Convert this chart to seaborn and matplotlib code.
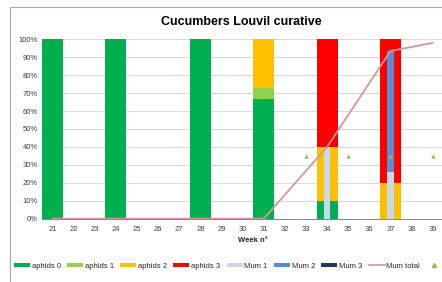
import numpy as np
import pandas as pd
import matplotlib
matplotlib.use("Agg")
import matplotlib.pyplot as plt
from matplotlib.patches import Rectangle, Patch
from matplotlib.lines import Line2D
import seaborn as sns

weeks = list(range(21, 40))
week_labels = [str(w) for w in weeks]

aphids0 = [100, 0, 0, 100, 0, 0, 0, 100, 0, 0, 67, 0, 0, 10, 0, 0, 0, 0, 0]
aphids1 = [0, 0, 0, 0, 0, 0, 0, 0, 0, 0, 6, 0, 0, 0, 0, 0, 0, 0, 0]
aphids2 = [0, 0, 0, 0, 0, 0, 0, 0, 0, 0, 27, 0, 0, 30, 0, 0, 20, 0, 0]
aphids3 = [0, 0, 0, 0, 0, 0, 0, 0, 0, 0, 0, 0, 0, 60, 0, 0, 80, 0, 0]
mum1 = [0, 0, 0, 0, 0, 0, 0, 0, 0, 0, 0, 0, 0, 40, 0, 0, 26, 0, 0]
mum2 = [0, 0, 0, 0, 0, 0, 0, 0, 0, 0, 0, 0, 0, 0, 0, 0, 67.5, 0, 0]
mum3 = [0, 0, 0, 0, 0, 0, 0, 0, 0, 0, 0, 0, 0, 0, 0, 0, 0, 0, 0]
mum_total = [0, 0, 0, 0, 0, 0, 0, 0, 0, 0, 0, np.nan, np.nan, 40, np.nan, np.nan, 93.5, np.nan, 98]
marker_weeks = [33, 35, 37, 39]
marker_vals = [35, 35, 35, 35]

aphid_series = [("aphids 0", aphids0, "#00B050"), ("aphids 1", aphids1, "#92D050"),
                ("aphids 2", aphids2, "#FFC000"), ("aphids 3", aphids3, "#FF0000")]
mum_series = [("Mum 1", mum1, "#C6D9F1"), ("Mum 2", mum2, "#558ED5"), ("Mum 3", mum3, "#1F3864")]
line_color = "#D99694"
marker_color = "#9BBB59"

sns.set_theme(style="white")
plt.rcParams['font.family'] = ['Liberation Sans', 'DejaVu Sans']

fig = plt.figure(figsize=(4.42, 2.82), dpi=100)
ax = fig.add_axes([41.9 / 442, 1 - 218.7 / 282, (443.3 - 41.9) / 442, (218.7 - 39.3) / 282])

# chart border
fig.patches.append(Rectangle((10 / 442, -0.1), 1.2, 1 - 7 / 282 + 0.1, transform=fig.transFigure,
                             fill=False, edgecolor="#A6A6A6", linewidth=0.8, zorder=-1))

x = np.array(weeks)
bottom = np.zeros(len(weeks))
for name, vals, col in aphid_series:
    v = np.array(vals, dtype=float)
    ax.bar(x, v, width=1.0, bottom=bottom, color=col, linewidth=0, zorder=2)
    bottom += v

bottom = np.zeros(len(weeks))
for name, vals, col in mum_series:
    v = np.array(vals, dtype=float)
    ax.bar(x, v, width=0.31, bottom=bottom, color=col, linewidth=0, zorder=3)
    bottom += v

df_line = pd.DataFrame({"week": weeks, "total": mum_total}).dropna()
sns.lineplot(data=df_line, x="week", y="total", color=line_color, linewidth=1.3, ax=ax, zorder=4)

df_mk = pd.DataFrame({"week": marker_weeks, "val": marker_vals})
sns.scatterplot(data=df_mk, x="week", y="val", marker="^", color=marker_color, s=10,
                linewidth=0, ax=ax, zorder=5)

ax.set_xlim(20.5, 39.5)
ax.set_ylim(0, 100)
ax.set_yticks(np.arange(0, 101, 10))
ax.set_yticklabels([f"{t}%" for t in range(0, 101, 10)], fontsize=5.5, color="#404040")
ax.set_xticks(weeks)
ax.set_xticklabels(week_labels, fontsize=5.5, color="#404040")
ax.set_xticks(np.arange(20.5, 40, 1), minor=True)
ax.tick_params(axis="x", which="major", length=0, pad=5)
ax.tick_params(axis="x", which="minor", length=3, color="#868686", width=0.6, direction="out")
ax.tick_params(axis="y", length=0, pad=3)
ax.grid(axis="y", color="#D9D9D9", linewidth=0.7, zorder=0)
ax.set_axisbelow(True)
for s in ["top", "right", "left"]:
    ax.spines[s].set_visible(False)
ax.spines["bottom"].set_color("#868686")
ax.spines["bottom"].set_linewidth(0.7)
ax.set_ylabel("")
ax.set_xlabel("")

fig.text(253 / 442, 1 - 241 / 282, "Week n°", ha="center", va="center", fontsize=5.5,
         fontweight="bold", color="#262626")
fig.text(241.5 / 442, 1 - 22 / 282, "Cucumbers Louvil curative", ha="center", va="center",
         fontsize=9, fontweight="bold", color="#000000")

handles = [Patch(facecolor=c, edgecolor="none") for _, _, c in aphid_series + mum_series]
labels = [n for n, _, _ in aphid_series + mum_series]
handles.append(Line2D([], [], color=line_color, linewidth=1.3))
labels.append("Mum total")
handles.append(Line2D([], [], color=marker_color, marker="^", linestyle="none", markersize=3))
labels.append("")
fig.legend(handles, labels, loc="center left", bbox_to_anchor=(14 / 442, 1 - 266 / 282), ncol=9,
           frameon=False, fontsize=5.5, handlelength=2.1, handleheight=0.5, handletextpad=0.2,
           columnspacing=0.85, borderaxespad=0, borderpad=0)

fig.savefig("out.png", dpi=100)
